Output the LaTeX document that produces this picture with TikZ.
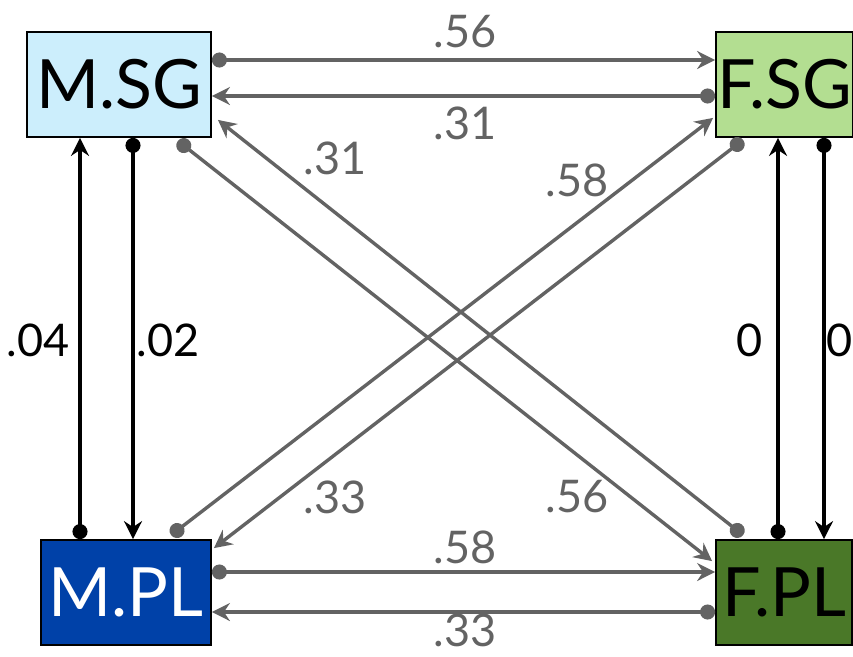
\documentclass[tikz,border=0pt]{standalone}
\usepackage{fontspec}
\setmainfont{Lato}
\usetikzlibrary{arrows.meta,calc}
\definecolor{gline}{RGB}{99,99,99}
\definecolor{msgfill}{RGB}{204,238,252}
\definecolor{fsgfill}{RGB}{179,222,145}
\definecolor{mplfill}{RGB}{0,65,168}
\definecolor{fplfill}{RGB}{74,120,40}
\tikzset{
  box/.style={draw=black,line width=1.8pt,inner sep=0pt,minimum height=105pt,font=\fontsize{68}{68}\selectfont},
  lab/.style={inner sep=0pt,font=\fontsize{45}{45}\selectfont},
  glab/.style={lab,text=gline},
  conn/.style={line width=3.4pt,{Circle[length=15pt,width=15pt]}-{Stealth[length=18pt,width=18pt,inset=6pt]}},
  gconn/.style={conn,draw=gline,fill=gline},
  bconn/.style={conn,draw=black,fill=black},
}
\begin{document}
\begin{tikzpicture}[x=1pt,y=-1pt]
\useasboundingbox (0,0) rectangle (853,656);
\begin{scope}
\clip (0,0) rectangle (853,656);
\node[box,fill=msgfill,minimum width=184pt] (msg) at (119,84.5) {M.SG};
\node[box,fill=fsgfill,minimum width=137pt] (fsg) at (784.5,84.5) {F.SG};
\node[box,fill=mplfill,text=white,minimum width=170pt] (mpl) at (126,592.5) {M.PL};
\node[box,fill=fplfill,minimum width=136pt] (fpl) at (784,592.5) {F.PL};
\end{scope}
% horizontals
\draw[gconn] (msg.east |- 0,60) -- (fsg.west |- 0,60);
\draw[gconn] (fsg.west |- 0,96) -- (msg.east |- 0,96);
\draw[gconn] (mpl.east |- 0,572) -- (fpl.west |- 0,572);
\draw[gconn] (fpl.west |- 0,612) -- (mpl.east |- 0,612);
% verticals
\draw[bconn] (mpl.north -| 80,0) -- (msg.south -| 80,0);
\draw[bconn] (msg.south -| 133,0) -- (mpl.north -| 133,0);
\draw[bconn] (fpl.north -| 778,0) -- (fsg.south -| 778,0);
\draw[bconn] (fsg.south -| 824,0) -- (fpl.north -| 824,0);
% diagonals
\draw[gconn] ([shift={(131,-4)}]mpl.north west) -- ([shift={(-2,-20)}]fsg.south west);
\draw[gconn] ([shift={(28,2)}]fsg.south west) -- ([shift={(2,9)}]mpl.north east);
\draw[gconn] ([shift={(-34,3)}]msg.south east) -- ([shift={(-3,22)}]fpl.north west);
\draw[gconn] ([shift={(28,-4)}]fpl.north west) -- ([shift={(6,-18)}]msg.south east);
% labels
\node[glab] (l1) at (465,32) {.56};
\node[glab] (l2) at (465,123) {.31};
\node[glab] (l3) at (335,158) {.31};
\node[glab] (l4) at (577,180) {.58};
\node[lab] (l5) at (38,340) {.04};
\node[lab] (l6) at (168,340) {.02};
\node[lab] (l7) at (750,340) {0};
\node[lab] (l8) at (840,340) {0};
\node[glab] (l9) at (335,497) {.33};
\node[glab] (l10) at (577,497) {.56};
\node[glab] (l11) at (465,547) {.58};
\node[glab] (l12) at (465,630) {.33};
\end{tikzpicture}
\end{document}
